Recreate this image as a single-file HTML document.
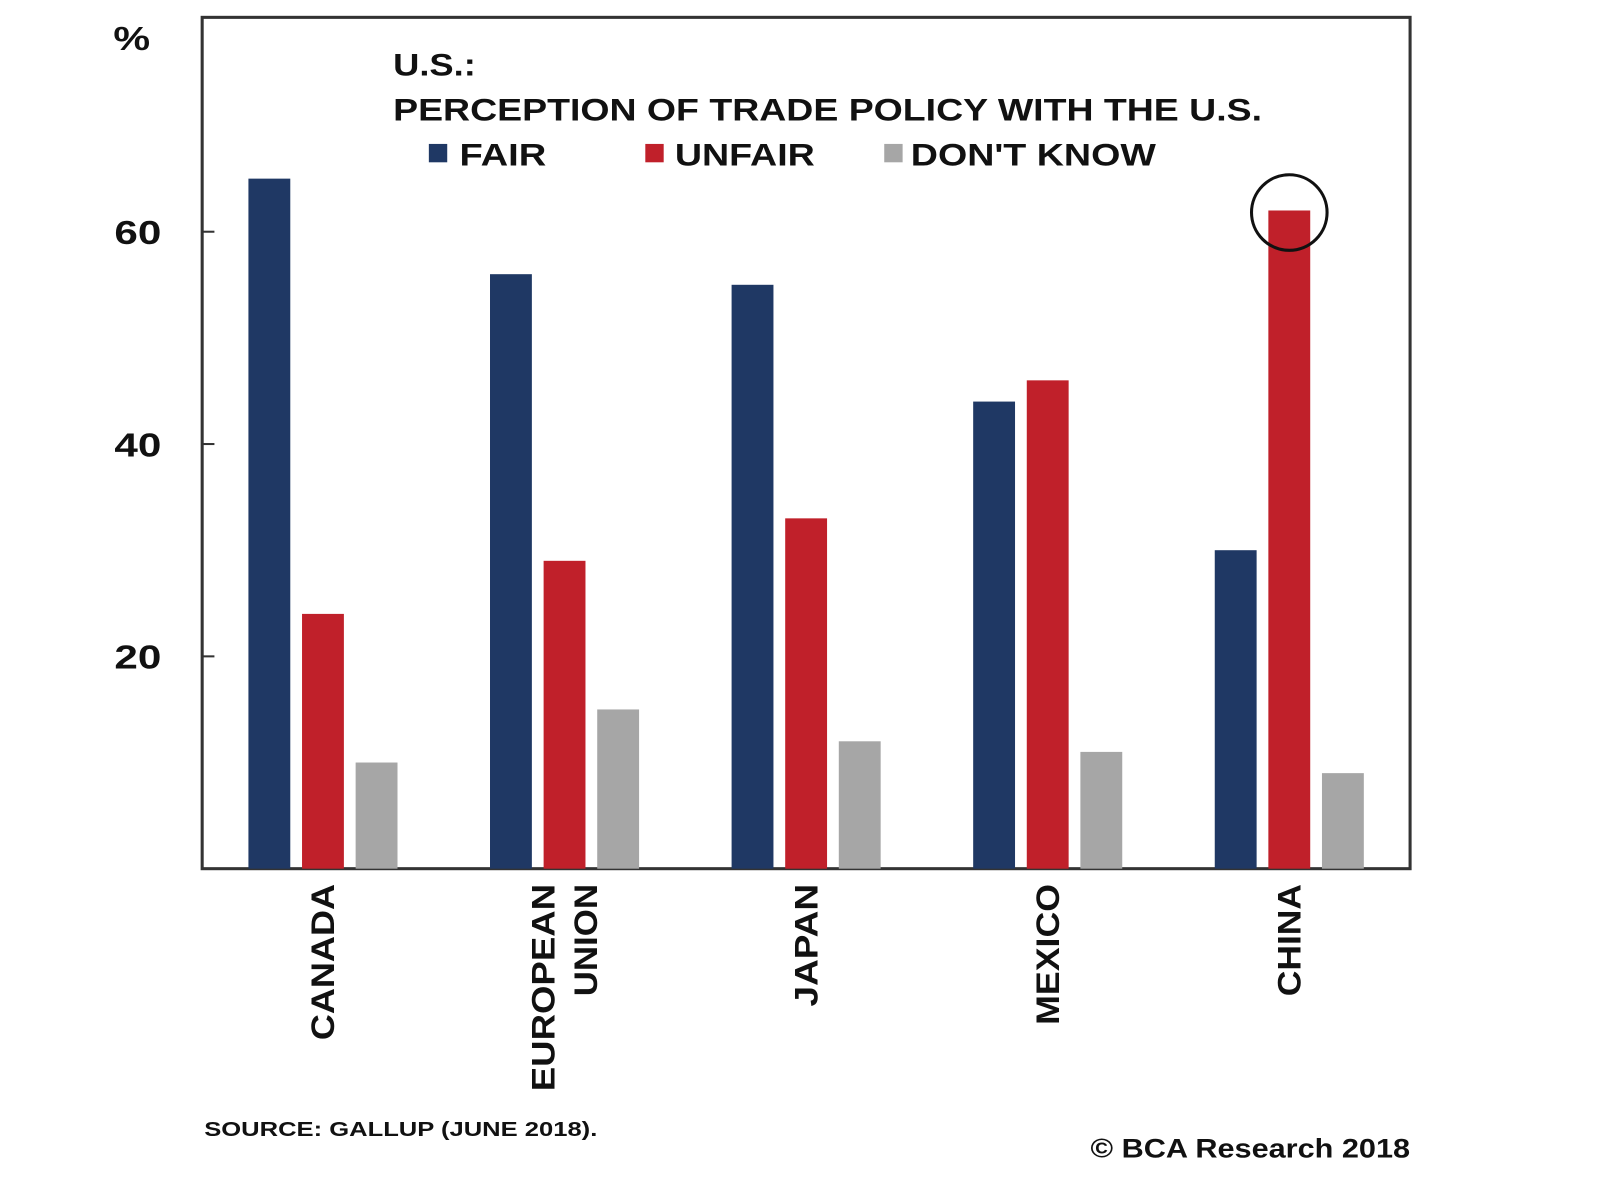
<!DOCTYPE html>
<html><head><meta charset="utf-8"><style>
body{margin:0;background:#fff;}
svg text{font-family:"Liberation Sans",Arial,sans-serif;font-weight:bold;fill:#111;}
</style></head><body>
<svg id="chart" width="1600" height="1179" viewBox="0 0 1567 1155" preserveAspectRatio="none">
<rect x="198" y="17" width="1183" height="834" fill="none" stroke="#333" stroke-width="3"/>
<text x="111" y="49" font-size="33" textLength="36" lengthAdjust="spacingAndGlyphs">%</text>
<g id="yticks"></g>
<g id="bars"></g>
<g id="xlabels"></g>
<text x="385" y="74" font-size="31" textLength="81" lengthAdjust="spacingAndGlyphs">U.S.:</text>
<text x="385" y="118" font-size="31" textLength="851" lengthAdjust="spacingAndGlyphs">PERCEPTION OF TRADE POLICY WITH THE U.S.</text>
<g>
<rect x="420" y="141" width="18" height="18" fill="#1f3864"/>
<text x="450" y="162" font-size="31" textLength="85" lengthAdjust="spacingAndGlyphs">FAIR</text>
<rect x="632" y="141" width="18" height="18" fill="#c0202a"/>
<text x="661" y="162" font-size="31" textLength="137" lengthAdjust="spacingAndGlyphs">UNFAIR</text>
<rect x="866" y="141" width="18" height="18" fill="#a6a6a6"/>
<text x="892" y="162" font-size="31" textLength="240" lengthAdjust="spacingAndGlyphs">DON'T KNOW</text>
</g>
<circle id="hl" cx="1262" cy="208" r="37" fill="none" stroke="#111" stroke-width="3"/>
<text x="200" y="1113" font-size="20" textLength="385" lengthAdjust="spacingAndGlyphs">SOURCE: GALLUP (JUNE 2018).</text>
<text x="1068" y="1134" font-size="26" textLength="313" lengthAdjust="spacingAndGlyphs">© BCA Research 2018</text>
</svg>
<script>
const categories=[["CANADA"],["EUROPEAN","UNION"],["JAPAN"],["MEXICO"],["CHINA"]];
const fair=[65,56,55,44,30];
const unfair=[24,29,33,46,62];
const dontKnow=[10,15,12,11,9];
const yTicks=[20,40,60];
const labelLens={"CANADA":153,"EUROPEAN":203,"UNION":110,"JAPAN":120,"MEXICO":138,"CHINA":110};
const NS="http://www.w3.org/2000/svg";
const L=198,R=1381,B=851,PX=10.4;
const y=v=>B-v*PX;
const gw=(R-L)/categories.length;
const cx=i=>L+gw*(i+0.5);
const series=[[fair,"#1f3864","fair",-52.5],[unfair,"#c0202a","unfair",0],[dontKnow,"#a6a6a6","dontknow",52.5]];
const bars=document.getElementById("bars");
series.forEach(([vals,col,nm,off])=>{vals.forEach((v,i)=>{
const r=document.createElementNS(NS,"rect");
r.setAttribute("x",cx(i)+off-20.5);r.setAttribute("y",y(v));
r.setAttribute("width",41);r.setAttribute("height",v*PX);r.setAttribute("fill",col);


bars.appendChild(r);});});
const yt=document.getElementById("yticks");
yTicks.forEach(t=>{
const l=document.createElementNS(NS,"line");
l.setAttribute("x1",L);l.setAttribute("x2",L+12);l.setAttribute("y1",y(t));l.setAttribute("y2",y(t));
l.setAttribute("stroke","#333");l.setAttribute("stroke-width",2);


yt.appendChild(l);
const tx=document.createElementNS(NS,"text");
tx.setAttribute("x",112);tx.setAttribute("y",y(t)+12);tx.setAttribute("font-size",33);
tx.setAttribute("textLength",46);tx.setAttribute("lengthAdjust","spacingAndGlyphs");
tx.textContent=t;


yt.appendChild(tx);});
const xl=document.getElementById("xlabels");
categories.forEach((lines,i)=>{
lines.forEach((s,j)=>{
const n=lines.length;
const px=cx(i)+11+(j-(n-1)/2)*42;
const tx=document.createElementNS(NS,"text");
tx.setAttribute("transform",`translate(${px},866) rotate(-90)`);
tx.setAttribute("font-size",32);tx.setAttribute("text-anchor","end");
if(labelLens[s]){tx.setAttribute("textLength",labelLens[s]);tx.setAttribute("lengthAdjust","spacingAndGlyphs");}
tx.textContent=s;


xl.appendChild(tx);});});
const hl=document.getElementById("hl");
hl.setAttribute("cx",cx(4));hl.setAttribute("cy",y(unfair[4])+2);
</script>
</body></html>
